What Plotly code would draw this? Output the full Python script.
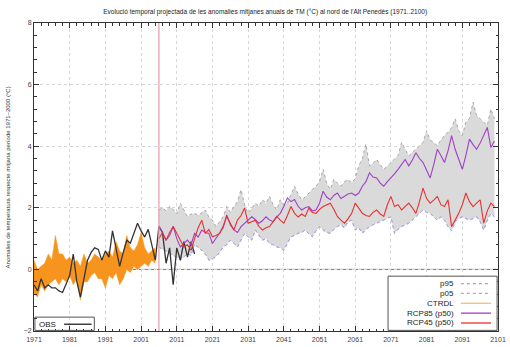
import plotly.graph_objects as go

# ---------------- data ----------------
obs_years = list(range(1971, 2017))
obs_vals = [-0.50, -0.70, -0.30, -0.60, -0.50, -0.60, -0.60, -0.70, -0.75, -0.50,
            -0.20, 0.50, -0.40, -0.90, -0.30, 0.30, 0.55, 0.70, 0.65, 0.30,
            0.60, 0.40, 1.25, 0.70, 0.10, 0.55, 0.95, 0.85, 1.20, 1.50,
            1.25, 1.05, 1.30, 0.80, 0.30, 1.40, 1.20, 0.20, 0.70, -0.50,
            0.70, 0.30, 0.90, 0.40, 0.90, 0.50]

ctrl_years = list(range(1971, 2006))
ctrl_upper = [0.3, 0.0, 0.1, 0.2, 0.5, 0.3, 1.1, 0.5, 0.5, 0.3,
              0.4, 0.2, 0.3, 0.1, 0.5, 0.2, 0.3, 0.5, 0.4, 0.3,
              0.5, 0.6, 0.4, 0.9, 0.6, 0.5, 1.1, 0.7, 0.6, 0.8,
              1.2, 0.7, 0.5, 0.6, 0.7]
ctrl_lower = [-0.8, -0.9, -0.5, -0.7, -0.5, -0.4, -0.3, -0.5, -0.3, -0.4,
              -0.2, -0.5, -0.3, -1.0, -0.4, -0.4, -0.2, -0.1, -0.3, -0.3,
              -0.6, -0.2, -0.3, -0.1, -0.5, -0.3, 0.0, -0.1, 0.1, 0.0,
              0.1, 0.2, 0.1, 0.3, 0.2]

proj_years = list(range(2006, 2101))
rcp85 = [1.40, 1.15, 0.95, 1.10, 1.40, 1.00, 0.73, 0.85, 0.95, 0.80,
         1.17, 1.05, 1.28, 1.20, 1.17, 0.84, 1.00, 1.17, 1.35, 1.77,
         1.45, 1.28, 1.20, 1.39, 1.50, 1.60, 1.71, 1.62, 1.50, 1.58,
         1.71, 1.60, 1.55, 1.70, 1.82, 2.05, 2.32, 2.20, 2.27, 2.05,
         1.93, 2.00, 2.04, 1.90, 1.93, 2.15, 2.54, 2.35, 2.26, 2.40,
         2.48, 2.30, 2.37, 2.45, 2.48, 2.40, 2.48, 2.70, 2.85, 3.14,
         3.00, 2.97, 2.80, 2.70, 2.85, 2.97, 3.10, 3.25, 3.40, 3.57,
         3.36, 3.55, 3.79, 3.60, 3.47, 3.20, 2.97, 3.40, 3.90, 3.70,
         3.47, 3.85, 4.34, 3.90, 3.60, 3.25, 3.70, 4.23, 4.05, 3.90,
         4.10, 4.34, 4.61, 3.96, 4.17]
rcp45 = [1.00, 1.20, 0.95, 1.20, 1.39, 1.17, 1.00, 0.73, 0.80, 0.62,
         1.00, 1.35, 1.60, 1.17, 1.30, 1.06, 1.10, 1.17, 1.40, 1.72,
         1.50, 1.28, 1.60, 1.75, 1.99, 1.50, 1.55, 1.60, 1.40, 1.28,
         1.35, 1.39, 1.55, 1.72, 1.60, 1.50, 1.75, 2.04, 1.82, 1.70,
         1.80, 1.72, 1.99, 1.85, 1.82, 1.95, 2.04, 2.10, 2.15, 1.95,
         1.72, 1.60, 1.50, 1.65, 1.82, 2.15, 2.00, 1.82, 1.75, 1.72,
         1.85, 1.93, 1.80, 1.72, 2.10, 2.37, 2.04, 2.10, 1.93, 2.05,
         2.15, 2.00, 1.82, 2.20, 2.64, 2.30, 2.15, 2.25, 2.37, 2.10,
         2.04, 2.26, 1.39, 1.60, 1.82, 2.10, 2.48, 2.20, 2.04, 2.15,
         2.26, 1.50, 1.90, 2.15, 2.04]
p95 = [1.93, 2.00, 1.90, 2.04, 1.95, 1.80, 2.15, 1.95, 1.71, 1.80,
       1.82, 1.75, 1.85, 1.93, 1.70, 1.60, 1.39, 1.55, 1.71, 2.04,
       1.85, 2.04, 2.20, 2.59, 2.10, 1.82, 2.00, 2.15, 2.05, 2.26,
       2.15, 2.37, 2.10, 1.93, 2.26, 2.10, 2.15, 2.40, 2.70, 2.45,
       2.26, 2.35, 2.48, 2.60, 2.70, 2.85, 3.25, 2.80, 2.59, 2.92,
       2.80, 2.70, 2.85, 2.92, 2.81, 2.95, 3.36, 3.60, 4.07, 3.36,
       3.45, 3.57, 3.40, 3.25, 3.35, 3.47, 3.57, 3.70, 4.12, 3.90,
       3.68, 3.80, 3.90, 4.00, 4.12, 4.50, 4.20, 4.12, 4.01, 4.20,
       4.35, 4.45, 4.60, 4.89, 4.50, 4.34, 4.78, 4.90, 5.43, 5.00,
       4.89, 4.75, 4.67, 5.21, 4.89]
p05 = [0.73, 0.65, 0.60, 0.52, 0.45, 0.40, 0.30, 0.40, 0.52, 0.45,
       0.84, 0.70, 0.62, 0.50, 0.30, 0.35, 0.41, 0.55, 0.73, 0.80,
       0.95, 0.85, 0.73, 0.95, 1.17, 1.05, 0.95, 1.28, 1.10, 0.95,
       1.00, 0.84, 0.80, 0.73, 0.70, 0.62, 0.85, 1.06, 1.10, 1.17,
       1.20, 1.28, 1.15, 1.06, 1.25, 1.39, 1.28, 1.20, 1.17, 1.30,
       1.39, 1.45, 1.35, 1.55, 1.60, 1.28, 1.35, 1.17, 1.30, 1.39,
       1.45, 1.50, 1.55, 1.60, 1.65, 1.71, 1.17, 1.30, 1.39, 1.45,
       1.50, 1.60, 1.71, 1.80, 1.93, 1.85, 1.82, 1.70, 1.60, 1.71,
       1.60, 1.39, 1.25, 1.55, 1.65, 1.71, 1.65, 1.60, 1.65, 1.71,
       1.55, 1.28, 1.60, 1.82, 1.71]

x_ticks = list(range(1971, 2102, 10))
y_ticks = [-2, 0, 2, 4, 6, 8]
scenario_start = 2006
zero_level = 0

legend_labels = ["p95", "p05", "CTRDL", "RCP85 (p50)", "RCP45 (p50)"]

# ---------------- styles ----------------
C_BAND = "#dadada"
C_P95 = "#a8a8a8"
C_P05 = "#a9a6e0"
C_ORANGE = "#f7941d"
C_CTRL_LINE = "#f5c16c"
C_PURPLE = "#a040c4"
C_RED = "#e8312f"
FONT = "Liberation Sans, Arial, sans-serif"

fig = go.Figure()

# projection band p05-p95
fig.add_trace(go.Scatter(x=proj_years, y=p05, mode="lines",
                         line=dict(color=C_P05, width=1, dash="dot"),
                         showlegend=False, hoverinfo="skip"))
fig.add_trace(go.Scatter(x=proj_years, y=p95, mode="lines", fill="tonexty",
                         fillcolor=C_BAND,
                         line=dict(color=C_P95, width=1, dash="dot"),
                         showlegend=False, hoverinfo="skip"))
fig.add_trace(go.Scatter(x=proj_years, y=p05, mode="lines",
                         line=dict(color=C_P05, width=1, dash="dot"),
                         showlegend=False, hoverinfo="skip"))

# CTRDL band
fig.add_trace(go.Scatter(x=ctrl_years, y=ctrl_lower, mode="lines",
                         line=dict(color=C_ORANGE, width=0.5),
                         showlegend=False, hoverinfo="skip"))
fig.add_trace(go.Scatter(x=ctrl_years, y=ctrl_upper, mode="lines", fill="tonexty",
                         fillcolor=C_ORANGE,
                         line=dict(color=C_ORANGE, width=0.5),
                         showlegend=False, hoverinfo="skip"))

# OBS
fig.add_trace(go.Scatter(x=obs_years, y=obs_vals, mode="lines",
                         line=dict(color="#333333", width=1.3),
                         showlegend=False))
# scenario medians
fig.add_trace(go.Scatter(x=proj_years, y=rcp85, mode="lines",
                         line=dict(color=C_PURPLE, width=1.1),
                         showlegend=False))
fig.add_trace(go.Scatter(x=proj_years, y=rcp45, mode="lines",
                         line=dict(color=C_RED, width=1.1),
                         showlegend=False))

# ---------------- shapes / manual gnuplot-style legends ----------------
shapes = []
annotations = []
shapes.append(dict(type="line", xref="paper", yref="y", x0=0, x1=1, y0=zero_level, y1=zero_level,
                   line=dict(color="#555555", width=0.8), layer="below"))
shapes.append(dict(type="line", xref="x", yref="paper", x0=scenario_start, x1=scenario_start,
                   y0=0, y1=1, line=dict(color="#e79aa6", width=1.2), layer="above"))

x0, x1 = 0.763, 0.998
y0, y1 = 0.002, 0.178
shapes.append(dict(type="rect", xref="paper", yref="paper", x0=x0, x1=x1, y0=y0, y1=y1,
                   line=dict(color="#555555", width=1), fillcolor="white", layer="above"))
leg_styles = [dict(color=C_P95, dash="dot"), dict(color=C_P05, dash="dot"),
              dict(color=C_CTRL_LINE, dash="solid"), dict(color=C_PURPLE, dash="solid"),
              dict(color=C_RED, dash="solid")]
row_h = 0.032
for i, (lab, st) in enumerate(zip(legend_labels, leg_styles)):
    yy = y1 - 0.024 - i * row_h
    annotations.append(dict(xref="paper", yref="paper", x=0.910, y=yy, text=lab,
                            showarrow=False, xanchor="right", yanchor="middle",
                            font=dict(size=8, color="#222222", family=FONT)))
    shapes.append(dict(type="line", xref="paper", yref="paper", x0=0.920, x1=0.985,
                       y0=yy, y1=yy, line=dict(color=st["color"], width=1.3, dash=st["dash"]),
                       layer="above"))
# OBS legend
shapes.append(dict(type="rect", xref="paper", yref="paper", x0=0.002, x1=0.13, y0=0.002, y1=0.045,
                   line=dict(color="#555555", width=1), fillcolor="rgba(0,0,0,0)", layer="above"))
annotations.append(dict(xref="paper", yref="paper", x=0.006, y=0.022, text="OBS",
                        showarrow=False, xanchor="left", yanchor="middle",
                        font=dict(size=8, color="#222222", family=FONT)))
shapes.append(dict(type="line", xref="paper", yref="paper", x0=0.065, x1=0.124,
                   y0=0.022, y1=0.022, line=dict(color="#222222", width=1.3), layer="above"))

annotations.append(dict(xref="paper", yref="paper", x=-0.055, y=0.5,
                        text="Anomalies de temperatura respecte mitjana període 1971–2000 (°C)",
                        textangle=-90, showarrow=False, xanchor="center", yanchor="middle",
                        font=dict(size=6, color="#333333", family=FONT)))

axis_common = dict(showline=True, linecolor="#333333", linewidth=1, mirror="ticks",
                   ticks="inside", ticklen=5, tickcolor="#333333", zeroline=False,
                   showgrid=True, gridcolor="#d6d6d6", griddash="dot", gridwidth=0.8,
                   automargin=False,
                   tickfont=dict(size=7, color="#444444", family=FONT))

fig.update_layout(
    width=510, height=347,
    margin=dict(l=34, r=12, t=23, b=16),
    plot_bgcolor="white", paper_bgcolor="white",
    title=dict(text="Evolució temporal projectada de les anomalies mitjanes anuals de TM (°C) al nord de l'Alt Penedès (1971..2100)",
               x=0.52, xanchor="center", y=0.965, yanchor="middle", yref="container",
               font=dict(size=6.5, color="#222222", family=FONT)),
    xaxis=dict(range=[1971, 2101], tickvals=x_ticks, ticktext=[str(v) for v in x_ticks],
               ticklabelstandoff=2,
               minor=dict(dtick=2, tick0=1971, ticks="inside", ticklen=2.5, tickcolor="#333333",
                          showgrid=False),
               **axis_common),
    yaxis=dict(range=[-2, 8], tickvals=y_ticks,
               minor=dict(dtick=0.4, tick0=0, ticks="inside", ticklen=2.5, tickcolor="#333333",
                          showgrid=False),
               **axis_common),
    shapes=shapes,
    annotations=annotations,
    showlegend=False,
)

fig.write_html("out.html")
